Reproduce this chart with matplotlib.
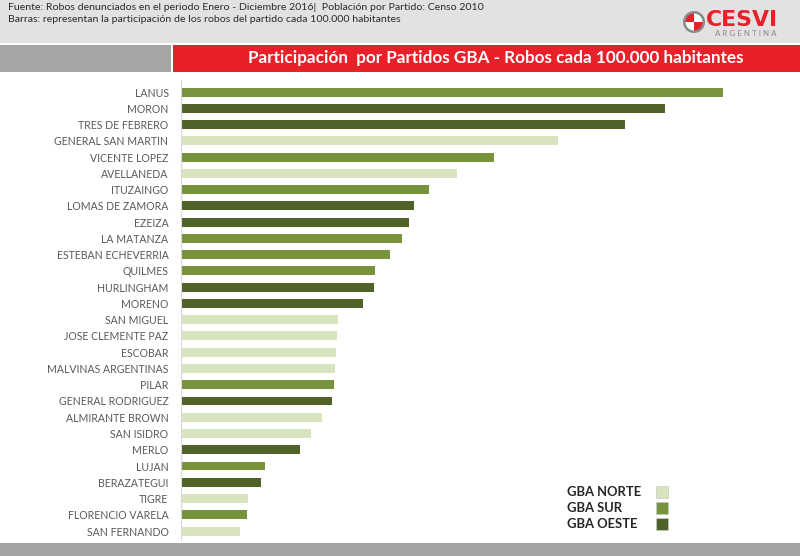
import matplotlib
matplotlib.use("Agg")
import matplotlib.pyplot as plt
from matplotlib.patches import Rectangle, Wedge, Circle

partidos = ["LANUS", "MORON", "TRES DE FEBRERO", "GENERAL SAN MARTIN", "VICENTE LOPEZ",
            "AVELLANEDA", "ITUZAINGO", "LOMAS DE ZAMORA", "EZEIZA", "LA MATANZA",
            "ESTEBAN ECHEVERRIA", "QUILMES", "HURLINGHAM", "MORENO", "SAN MIGUEL",
            "JOSE CLEMENTE PAZ", "ESCOBAR", "MALVINAS ARGENTINAS", "PILAR",
            "GENERAL RODRIGUEZ", "ALMIRANTE BROWN", "SAN ISIDRO", "MERLO", "LUJAN",
            "BERAZATEGUI", "TIGRE", "FLORENCIO VARELA", "SAN FERNANDO"]
valores = [542, 484, 444, 377, 313, 276, 248, 233, 228, 221, 209, 194, 193, 182,
           157, 156, 155, 154, 153, 151, 141, 130, 119, 84, 80, 67, 66, 59]
zonas = ["SUR", "OESTE", "OESTE", "NORTE", "SUR", "NORTE", "SUR", "OESTE", "OESTE",
         "SUR", "SUR", "SUR", "OESTE", "OESTE", "NORTE", "NORTE", "NORTE", "NORTE",
         "SUR", "OESTE", "NORTE", "NORTE", "OESTE", "SUR", "OESTE", "NORTE", "SUR", "NORTE"]
leyenda = ["GBA NORTE", "GBA SUR", "GBA OESTE"]
colores = {"NORTE": "#d7e4bd", "SUR": "#77933c", "OESTE": "#4f6228"}
fuente = "Fuente: Robos denunciados en el periodo Enero - Diciembre 2016|  Población por Partido: Censo 2010"
barras_txt = "Barras: representan la participación de los robos del partido cada 100.000 habitantes"
titulo = "Participación  por Partidos GBA - Robos cada 100.000 habitantes"

plt.rcParams['font.family'] = ['Lato', 'DejaVu Sans']
W, H = 800, 556
fig = plt.figure(figsize=(8, 5.56), dpi=100)
fig.patch.set_facecolor("white")

def fx(px):
    return px / W
def fy(py):
    return 1 - py / H

# header background
fig.add_artist(Rectangle((0, fy(43)), 1, 43 / H, transform=fig.transFigure,
                         facecolor="#e2e2e2", edgecolor="none"))
fig.add_artist(Rectangle((0, fy(72)), fx(171), 27 / H, transform=fig.transFigure,
                         facecolor="#a6a6a6", edgecolor="none"))
fig.add_artist(Rectangle((fx(173), fy(72)), 1 - fx(173), 27 / H, transform=fig.transFigure,
                         facecolor="#e8202a", edgecolor="none"))
# bottom band
fig.add_artist(Rectangle((0, 0), 1, 13 / H, transform=fig.transFigure,
                         facecolor="#a3a3a3", edgecolor="none"))

fig.text(fx(8), fy(8), fuente, fontsize=7.55, color="#2a2a2a", va="center", ha="left")
fig.text(fx(8), fy(20), barras_txt, fontsize=7.55, color="#2a2a2a", va="center", ha="left")
fig.text(fx(496), fy(58), titulo, fontsize=12.3, color="white", fontweight="bold",
         va="center", ha="center")

# logo
logo_ax = fig.add_axes([fx(682), fy(34), 24 / W, 24 / H])
logo_ax.set_zorder(5)
logo_ax.set_xlim(-1.2, 1.2)
logo_ax.set_ylim(-1.2, 1.2)
logo_ax.set_aspect("equal")
logo_ax.axis("off")
logo_ax.add_patch(Circle((0, 0), 1.1, facecolor="#8a8a8a", edgecolor="none"))
logo_ax.add_patch(Wedge((0, 0), 0.85, 0, 90, facecolor="white", edgecolor="none"))
logo_ax.add_patch(Wedge((0, 0), 0.85, 90, 180, facecolor="#e8202a", edgecolor="none"))
logo_ax.add_patch(Wedge((0, 0), 0.85, 180, 270, facecolor="white", edgecolor="none"))
logo_ax.add_patch(Wedge((0, 0), 0.85, 270, 360, facecolor="#e8202a", edgecolor="none"))
fig.text(fx(706), fy(20), "CESVI", fontsize=15.8, color="#e8202a", fontweight="bold",
         family="DejaVu Sans", va="center", ha="left")
fig.text(fx(746), fy(33), "A R G E N T I N A", fontsize=5.8, color="#8a8a8a",
         va="center", ha="center")

# main axes
ax = fig.add_axes([fx(181), fy(540), 600 / W, 460 / H])
n = len(partidos)
ys = list(range(n))
ax.barh(ys, valores, height=0.55, color=[colores[z] for z in zonas], edgecolor="none")
ax.set_xlim(0, 600)
ax.set_ylim(27.55, -0.74)
ax.set_yticks(ys)
ax.set_yticklabels(partidos, fontsize=7.6, color="#595959")
ax.tick_params(axis="y", length=0, pad=9)
ax.set_xticks([])
for s in ["top", "right", "bottom"]:
    ax.spines[s].set_visible(False)
ax.spines["left"].set_color("#d9d9d9")
ax.spines["left"].set_linewidth(0.8)
ax.patch.set_alpha(0)

# legend
for i, (lab, z) in enumerate(zip(leyenda, ["NORTE", "SUR", "OESTE"])):
    yy = 492 + 16 * i
    fig.text(fx(567), fy(yy), lab, fontsize=9.4, color="#262626", fontweight="bold",
             va="center", ha="left")
    fig.add_artist(Rectangle((fx(656), fy(yy + 6)), 12 / W, 12 / H, transform=fig.transFigure,
                             facecolor=colores[z], edgecolor="#c8c8c8", linewidth=0.5))

fig.savefig("out.png", dpi=100)
